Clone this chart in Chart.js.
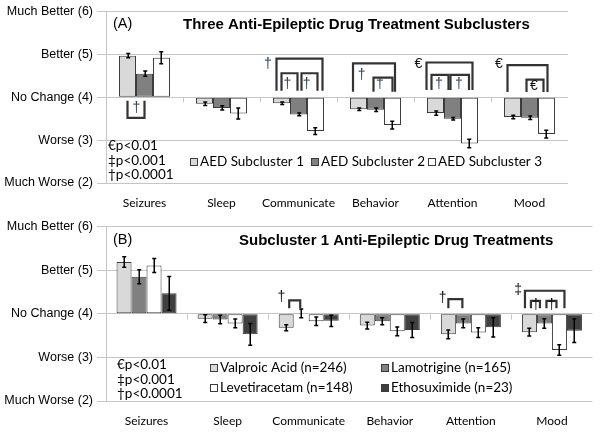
<!DOCTYPE html>
<html><head><meta charset="utf-8">
<script src="https://cdn.jsdelivr.net/npm/chart.js@4.4.1/dist/chart.umd.min.js"></script>
<style>
html,body{margin:0;padding:0;background:#fff;width:600px;height:444px;overflow:hidden}
#wa{position:absolute;left:0;top:0;width:600px;height:215px}
#wb{position:absolute;left:0;top:215px;width:600px;height:229px}
canvas{display:block}
</style></head><body>
<div id="wa"><canvas id="ca" width="600" height="215"></canvas></div>
<div id="wb"><canvas id="cb" width="600" height="229"></canvas></div>
<script>
// ---------- data ----------
const categories = ['Seizures','Sleep','Communicate','Behavior','Attention','Mood'];
const yTickLabels = ['Much Worse (2)','Worse (3)','No Change (4)','Better (5)','Much Better (6)'];
const yMin = 2, yMax = 6;
const baseline = 4;
const sigLegend = ['€p<0.01','‡p<0.001','†p<0.0001'];

// Panel A : three AED subclusters
const seriesA = ['AED Subcluster 1','AED Subcluster 2','AED Subcluster 3'];
const aed1    = [4.97, 3.85, 3.86, 3.72, 3.63, 3.54];
const aed1Err = [0.05, 0.04, 0.03, 0.03, 0.05, 0.04];
const aed2    = [4.55, 3.75, 3.60, 3.71, 3.50, 3.52];
const aed2Err = [0.06, 0.05, 0.03, 0.04, 0.03, 0.04];
const aed3    = [4.92, 3.62, 3.21, 3.35, 2.92, 3.14];
const aed3Err = [0.14, 0.13, 0.08, 0.09, 0.10, 0.09];

// Panel B : subcluster 1 drug treatments
const seriesB = ['Valproic Acid (n=246)','Lamotrigine (n=165)','Levetiracetam (n=148)','Ethosuximide (n=23)'];
const vpa    = [5.19, 3.89, 3.68, 3.73, 3.53, 3.58];
const vpaErr = [0.12, 0.09, 0.07, 0.08, 0.10, 0.09];
const ltg    = [4.85, 3.87, 4.01, 3.83, 3.78, 3.78];
const ltgErr = [0.16, 0.10, 0.10, 0.08, 0.10, 0.11];
const lev    = [5.11, 3.78, 3.83, 3.60, 3.57, 3.17];
const levErr = [0.16, 0.10, 0.10, 0.10, 0.11, 0.12];
const eth    = [4.47, 3.53, 3.84, 3.63, 3.69, 3.61];
const ethErr = [0.39, 0.25, 0.13, 0.17, 0.22, 0.27];

// ---------- styling ----------
const FILLS_A = ['#d9d9d9','#808080','#ffffff'];
const FILLS_B = ['#d9d9d9','#808080','#ffffff','#404040'];
const GRID = '#c6c6c6';
const EDGE = '#3c3c3c';

// significance annotations (bracket ends in bar units + pixel nudges)
const annA = {
  title: 'Three Anti-Epileptic Drug Treatment Subclusters', tag: '(A)',
  tagPos: [113, 24], titlePos: [183, 25],
  sigPos: [108, 146], sigStep: 14.5,
  legendPos: [[190,162],[311,162],[428,162]],
  brackets: [
    {cat:0,a:0,b:1,dxa:0,dxb:0,from:3.92,to:3.52},
    {cat:2,a:0,b:2,dxa:-5,dxb:7,from:4.15,to:4.90},
    {cat:2,a:0,b:1,dxa:0,dxb:-1,from:4.15,to:4.56},
    {cat:2,a:1,b:2,dxa:3,dxb:2,from:4.15,to:4.56},
    {cat:3,a:0,b:2,dxa:-5.5,dxb:2.5,from:4.13,to:4.79},
    {cat:3,a:1,b:2,dxa:-2,dxb:0,from:4.13,to:4.46},
    {cat:4,a:0,b:2,dxa:-9,dxb:3,from:4.17,to:4.81},
    {cat:4,a:0,b:1,dxa:-4,dxb:-4,from:4.17,to:4.52},
    {cat:4,a:1,b:2,dxa:-2,dxb:-0.5,from:4.17,to:4.52},
    {cat:5,a:0,b:2,dxa:-5,dxb:1,from:4.12,to:4.75},
    {cat:5,a:1,b:2,dxa:-3,dxb:-3,from:4.12,to:4.41}
  ],
  symbols: [
    {cat:0,bar:0,dx:8.8,y:3.75,ch:'†'},
    {cat:2,bar:0,dx:-13.5,y:4.77,ch:'†'},
    {cat:2,bar:0,dx:6,y:4.31,ch:'†'},
    {cat:2,bar:1,dx:8.2,y:4.31,ch:'†'},
    {cat:3,bar:0,dx:3.2,y:4.52,ch:'†'},
    {cat:3,bar:1,dx:4.5,y:4.31,ch:'†'},
    {cat:4,bar:0,dx:-17.2,y:4.77,ch:'€'},
    {cat:4,bar:0,dx:3.5,y:4.31,ch:'†'},
    {cat:4,bar:1,dx:6.5,y:4.31,ch:'†'},
    {cat:5,bar:0,dx:-13.5,y:4.78,ch:'€'},
    {cat:5,bar:1,dx:4.5,y:4.27,ch:'€'}
  ]
};
const annB = {
  title: 'Subcluster 1 Anti-Epileptic Drug Treatments', tag: '(B)',
  tagPos: [113, 25], titlePos: [239, 26],
  sigPos: [117, 150], sigStep: 14.2,
  legendPos: [[210,153],[381,153],[210,173],[381,173]],
  brackets: [
    {cat:2,a:0,b:1,dxa:3,dxb:-1,from:4.13,to:4.31},
    {cat:4,a:0,b:1,dxa:0,dxb:-1,from:4.13,to:4.34},
    {cat:5,a:0,b:2,dxa:-4.5,dxb:5,from:4.13,to:4.53},
    {cat:5,a:0,b:1,dxa:1.5,dxb:-4.5,from:4.13,to:4.30},
    {cat:5,a:1,b:2,dxa:2,dxb:-3,from:4.13,to:4.30}
  ],
  symbols: [
    {cat:2,bar:0,dx:-4.8,y:4.38,ch:'†'},
    {cat:4,bar:0,dx:-5.7,y:4.36,ch:'†'},
    {cat:5,bar:0,dx:-11.2,y:4.54,ch:'‡'},
    {cat:5,bar:0,dx:6.5,y:4.2,ch:'†'},
    {cat:5,bar:1,dx:7.2,y:4.2,ch:'†'}
  ]
};

// ---------- plugin: error bars, brackets, texts, legend ----------
const decor = {
  id: 'decor',
  afterDatasetsDraw(chart, args, o) {
    const ctx = chart.ctx, ys = chart.scales.y, xs = chart.scales.x;
    const barX = (ds, cat) => chart.getDatasetMeta(ds).data[cat].x;
    ctx.save();
    // category boundary ticks on the baseline
    const y4 = Math.round(ys.getPixelForValue(baseline)) + 0.5;
    ctx.strokeStyle = GRID; ctx.lineWidth = 1;
    for (let i = 1; i < categories.length; i++) {
      const bx = Math.round((xs.getPixelForValue(i - 1) + xs.getPixelForValue(i)) / 2) + 0.5;
      ctx.beginPath(); ctx.moveTo(bx, y4); ctx.lineTo(bx, y4 + 5); ctx.stroke();
    }
    // error bars
    ctx.strokeStyle = '#000'; ctx.lineWidth = 1.5;
    chart.data.datasets.forEach((ds, di) => {
      chart.getDatasetMeta(di).data.forEach((el, i) => {
        const v = ds.data[i], e = ds.errors[i];
        const yt = ys.getPixelForValue(v + e), yb = ys.getPixelForValue(v - e);
        const x = Math.round(el.x) + 0.25;
        ctx.beginPath();
        ctx.moveTo(x, yt); ctx.lineTo(x, yb);
        ctx.moveTo(x - 2, yt); ctx.lineTo(x + 2, yt);
        ctx.moveTo(x - 2, yb); ctx.lineTo(x + 2, yb);
        ctx.stroke();
      });
    });
    // brackets
    ctx.strokeStyle = '#333'; ctx.lineWidth = 2.2; ctx.lineJoin = 'miter';
    o.brackets.forEach(b => {
      const xa = barX(b.a, b.cat) + b.dxa, xb = barX(b.b, b.cat) + b.dxb;
      const y0 = ys.getPixelForValue(b.from), y1 = ys.getPixelForValue(b.to);
      ctx.beginPath(); ctx.moveTo(xa, y0); ctx.lineTo(xa, y1); ctx.lineTo(xb, y1); ctx.lineTo(xb, y0); ctx.stroke();
    });
    // significance symbols
    ctx.textAlign = 'center'; ctx.textBaseline = 'middle';
    ctx.font = '14px "Liberation Sans", Arial, sans-serif';
    o.symbols.forEach(s => {
      ctx.fillStyle = s.ch === '†' && o.tag === '(A)' ? '#27405c' : '#111';
      ctx.fillText(s.ch, barX(s.bar, s.cat) + s.dx, ys.getPixelForValue(s.y));
    });
    // tag + title
    ctx.textAlign = 'left'; ctx.fillStyle = '#000';
    ctx.font = '14.5px "Liberation Sans", Arial, sans-serif';
    ctx.fillText(o.tag, o.tagPos[0], o.tagPos[1]);
    ctx.font = 'bold 15px "Liberation Sans", Arial, sans-serif';
    ctx.fillText(o.title, o.titlePos[0], o.titlePos[1]);
    // p-value key
    ctx.font = '13.5px Lato, "Open Sans", sans-serif';
    sigLegend.forEach((t, i) => ctx.fillText(t, o.sigPos[0], o.sigPos[1] + i * o.sigStep));
    // series legend
    ctx.font = '13.5px Lato, "Open Sans", sans-serif';
    chart.data.datasets.forEach((ds, di) => {
      const [lx, ly] = o.legendPos[di];
      ctx.fillStyle = ds.backgroundColor;
      ctx.fillRect(lx + 0.5, ly - 3.5, 7, 7);
      ctx.strokeStyle = EDGE; ctx.lineWidth = 1;
      ctx.strokeRect(lx + 0.5, ly - 3.5, 7, 7);
      ctx.fillStyle = '#000';
      ctx.fillText(ds.label, lx + 10, ly);
    });
    ctx.restore();
  }
};

function makeChart(id, labels, values, errs, fills, ann, pad, catPct, xH) {
  return new Chart(document.getElementById(id), {
    type: 'bar',
    data: {
      labels: categories,
      datasets: labels.map((l, i) => ({
        label: l, data: values[i], errors: errs[i], base: baseline,
        backgroundColor: fills[i], borderColor: EDGE, borderWidth: 1, borderSkipped: false
      }))
    },
    options: {
      responsive: false, animation: false,
      layout: { padding: pad },
      datasets: { bar: { barPercentage: 1, categoryPercentage: catPct } },
      plugins: { legend: { display: false }, tooltip: { enabled: false }, title: { display: false }, decor: ann },
      scales: {
        x: {
          grid: { display: false, drawTicks: false }, border: { display: false },
          ticks: { color: '#000', padding: 13, maxRotation: 0, minRotation: 0, autoSkip: false,
            font: { family: 'Lato, "Open Sans", sans-serif', size: 12 } },
          afterFit: s => { s.height = xH; }
        },
        y: {
          min: yMin, max: yMax,
          grid: { color: GRID, tickLength: 9, tickColor: GRID },
          border: { display: true, color: GRID },
          ticks: { stepSize: 1, color: '#000', padding: 4,
            font: { family: '"Liberation Sans", Arial, sans-serif', size: 12.5 },
            callback: v => yTickLabels[v - yMin] },
          afterFit: s => { s.width = 106; }
        }
      }
    },
    plugins: [decor]
  });
}

makeChart('ca', seriesA, [aed1, aed2, aed3], [aed1Err, aed2Err, aed3Err], FILLS_A, annA,
  { top: 9.5, right: 32, left: 0, bottom: 0 }, 0.662, 32);
makeChart('cb', seriesB, [vpa, ltg, lev, eth], [vpaErr, ltgErr, levErr, ethErr], FILLS_B, annB,
  { top: 11.7, right: 7.5, left: 0, bottom: 0 }, 0.74, 43);
</script>
</body></html>
